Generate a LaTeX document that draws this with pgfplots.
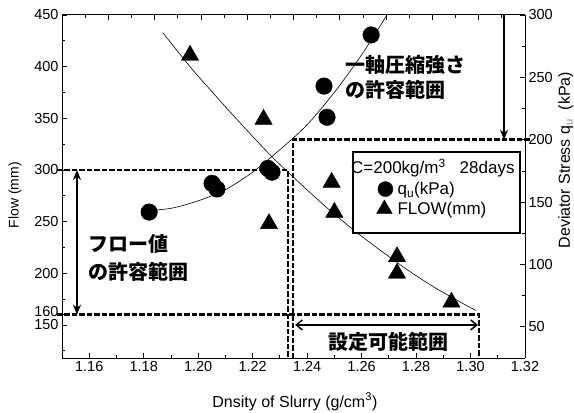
\documentclass[border=0pt]{standalone}
\usepackage{fontspec}
\setmainfont{Liberation Sans}
\newfontfamily\jp{Noto Sans CJK JP}
\usepackage{pgfplots}
\pgfplotsset{compat=1.18}
\usetikzlibrary{calc,arrows.meta}
\tikzset{
  dsh/.style={line width=2.6pt, dash pattern=on 5.5pt off 2pt},
  jpt/.style={font=\fontsize{20}{22}\selectfont\jp\bfseries, inner sep=0pt},
}
\pgfplotsset{
  legC/.style={legend image code/.code={\path (0pt,-8pt) (42pt,8pt); \draw[##1, mark size=7.5pt] plot coordinates {(32pt,0pt)};}},
  legT/.style={legend image code/.code={\path (0pt,-8pt) (42pt,8pt); \draw[##1] plot coordinates {(31pt,0pt)};}},
}

\begin{document}
\begin{tikzpicture}
\pgfplotsset{
  base/.style={
    scale only axis, width=463pt, height=343pt,
    xmin=1.15, xmax=1.32,
    /pgf/number format/assume math mode=true,
    tick label style={font=\fontsize{14.5}{16}\selectfont},
    major tick length=5pt, minor tick length=3pt,
    tick style={black, line width=0.8pt},
    axis line style={line width=1pt},
    clip=false,
  },
}
\begin{axis}[base, name=A,
  ymin=118, ymax=450,
  axis y line*=left, axis x line*=bottom,
  tick align=inside,
  ytick={150,200,250,300,350,400,450},
  yticklabels={\raisebox{-2pt}{150},200,250,300,350,400,450},
  extra y ticks={160},
  extra y tick style={yticklabel style={yshift=3pt}},
  minor ytick={125,175,225,275,325,375,425},
  xtick={1.16,1.18,1.20,1.22,1.24,1.26,1.28,1.30,1.32},
  minor xtick={1.17,1.19,1.21,1.23,1.25,1.27,1.29,1.31},
  xticklabel style={/pgf/number format/.cd, fixed, fixed zerofill, precision=2},
  xlabel={Dnsity of Slurry (g/cm\textsuperscript{3})},
  ylabel={Flow (mm)},
  xlabel style={font=\fontsize{16}{18}\selectfont, at={(axis description cs:0.503,-0.1274)}, anchor=center},
  ylabel style={font=\fontsize{14}{16}\selectfont, at={(axis description cs:-0.1015,0.475)}, anchor=center},
]
% flow fit curve
\addplot[black, line width=0.6pt, smooth] coordinates {
 (1.187,433) (1.197,400) (1.207,370) (1.217,341) (1.227,313) (1.237,288)
 (1.247,264) (1.257,242) (1.267,222) (1.277,203) (1.287,186) (1.297,171) (1.302,164)};
% flow data
\addplot[only marks, mark=triangle*, mark size=10pt, black, line width=0.4pt] coordinates {
 (1.197,411) (1.224,349) (1.226,248) (1.249,288) (1.250,259) (1.273,216) (1.273,200) (1.293,172)};
% dashed frames
\draw[dsh] (1.14816,300) -- (1.2330,300) -- (1.2330,118);
\draw[dsh] (1.14816,160) -- (1.3031,160) -- (1.3031,118);
% arrows
\draw[line width=1.8pt, {Stealth[length=10pt,width=8pt]}-{Stealth[length=10pt,width=8pt]}] (1.1555,300) -- (1.1555,160);
\draw[line width=1.5pt, {Straight Barb[length=6pt,width=10pt]}-{Straight Barb[length=6pt,width=10pt]}] (1.2356,150) -- (1.3027,150);
% texts
\node[jpt, anchor=west] at (1.2539,401.6) {一軸圧縮強さ};
\node[jpt, anchor=west] at (1.2539,377.4) {の許容範囲};
\node[jpt, anchor=west] at (1.1595,228.3) {フロー値};
\node[jpt, anchor=west] at (1.1595,201.2) {の許容範囲};
\node[jpt, anchor=center] at (1.2699,133.5) {設定可能範囲};
\end{axis}

\begin{axis}[base, name=B,
  ymin=25, ymax=300,
  axis y line*=right, axis x line*=top,
  tick align=inside,
  ytick={50,100,150,200,250,300},
  minor ytick={75,125,175,225,275},
  xtick={1.167,1.184,1.201,1.218,1.235,1.252,1.269,1.286,1.303},
  minor xtick={1.1585,1.1755,1.1925,1.2095,1.2265,1.2435,1.2605,1.2775,1.2945,1.3115},
  xticklabels={},
  ylabel={Deviator Stress q\textsubscript{\textcolor{black!45}{u}}\ \ (kPa)},
  ylabel style={font=\fontsize{16}{18}\selectfont, at={(axis description cs:1.097,0.577)}, anchor=base},
  legend style={at={(0.6285,0.519)}, anchor=north west, draw=none, fill=none,
    font=\fontsize{17}{19}\selectfont, inner xsep=0pt, inner ysep=0pt, row sep=2pt,
    nodes={inner sep=2pt}},
  legend cell align=left,
]
% qu fit curve
\addplot[black, line width=0.6pt, smooth, forget plot] coordinates {
 (1.180,143) (1.190,145) (1.200,151) (1.210,160) (1.220,174) (1.230,192)
 (1.240,212) (1.250,238) (1.260,268) (1.2693,300)};
% qu data
\addplot[only marks, mark=*, mark size=8.3pt, black, line width=0.4pt, legC] coordinates {
 (1.182,142) (1.2051,165) (1.2069,160.5) (1.2256,177) (1.2271,174) (1.2462,243) (1.2473,218) (1.2635,284)};
\addlegendentry{q\textsubscript{u}(kPa)}
\addlegendimage{only marks, mark=triangle*, mark size=9pt, black, line width=0.4pt, legT}
\addlegendentry{FLOW(mm)}
% legend frame and title
\draw[line width=1.8pt, fill=white] (1.25685,190.2) rectangle (1.31817,125.2);
\node[anchor=west, inner sep=0pt, font=\fontsize{17}{19}\selectfont] at (1.2561,177.3) {C=200kg/m\textsuperscript{3}\hspace{14pt}28days};
% dashed frame for qu
\draw[dsh] (1.3218,200) -- (1.2348,200) -- (1.2348,25);
\draw[line width=1.8pt, -{Stealth[length=10pt,width=8pt]}] (1.3123,300) -- (1.3123,200);
\end{axis}
\pgfresetboundingbox
\path ($(A.south west)+(-62pt,-54pt)$) rectangle ($(A.north east)+(49pt,15pt)$);
\end{tikzpicture}
\end{document}
